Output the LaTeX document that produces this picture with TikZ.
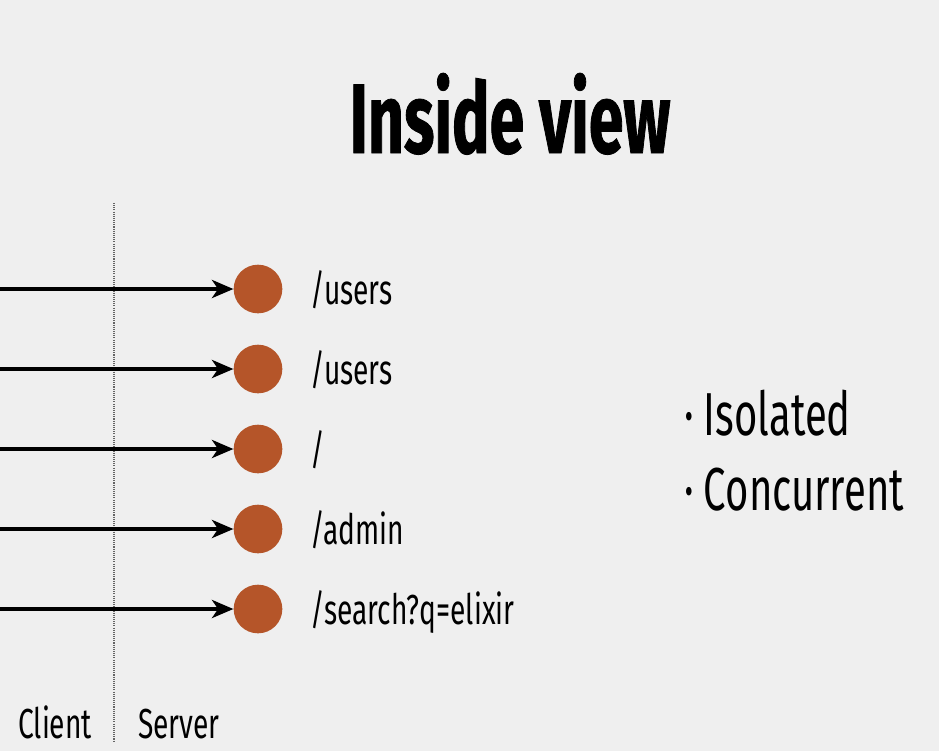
\documentclass[tikz,border=0pt]{standalone}
\usepackage{fontspec}
\setmainfont[FakeStretch=0.67]{Fira Sans}
\newfontfamily\pointfont[FakeStretch=0.66]{Fira Sans}
\newfontfamily\titlefont[FakeStretch=0.635, FakeBold=0.8]{Fira Sans}
\usetikzlibrary{arrows.meta}

\definecolor{slidebg}{RGB}{239,239,239}
\definecolor{proc}{RGB}{181,85,41}
\definecolor{divider}{RGB}{100,100,100}

\tikzset{
  request/.style={line width=3.1pt, -{Stealth[length=16pt, width=13.5pt, inset=4.5pt]}},
  process/.style={circle, fill=proc, minimum size=36.5pt, inner sep=0pt},
  route/.style={anchor=base west, inner sep=0pt, font=\fontsize{31.5}{36}\selectfont},
  side/.style={anchor=base west, inner sep=0pt, font=\fontsize{31.5}{36}\selectfont},
  point/.style={anchor=base west, inner sep=0pt, font=\pointfont\fontsize{45.5}{52}\selectfont},
  boundary/.style={draw=divider, line width=1.4pt, dash pattern=on 0.8pt off 0.8pt}
}

\begin{document}
\begin{tikzpicture}[x=0.75pt, y=-0.75pt]
  \useasboundingbox[fill=slidebg] (0,0) rectangle (939,751);

  % title
  \node[anchor=base, inner sep=0pt, font=\titlefont\bfseries\fontsize{74}{80}\selectfont]
    (title) at (510,153) {Inside view};

  % client / server boundary
  \coordinate (btop) at (114,203);
  \coordinate (bbot) at (114,741);
  \draw[boundary] (btop) -- (bbot);
  \node[side] (client) at (18,738) {Client};
  \node[side] (server) at (138,738) {Server};

  % one process per incoming request
  \foreach \i/\y/\r in {1/289/{/users}, 2/369/{/users}, 3/449/{/}, 4/529/{/admin}, 5/609/{/search?q=elixir}} {
    \coordinate (src\i) at (0,\y);
    \node[process] (p\i) at (258,\y) {};
    \node[route] (r\i) at (310,\y+15) {\r};
    \draw[request] (src\i) -- (p\i.west);
  }

  % properties
  \node[point] (iso) at (684,435) {·\,Isolated};
  \node[point] (conc) at (684,510) {·\,Concurrent};
\end{tikzpicture}
\end{document}
